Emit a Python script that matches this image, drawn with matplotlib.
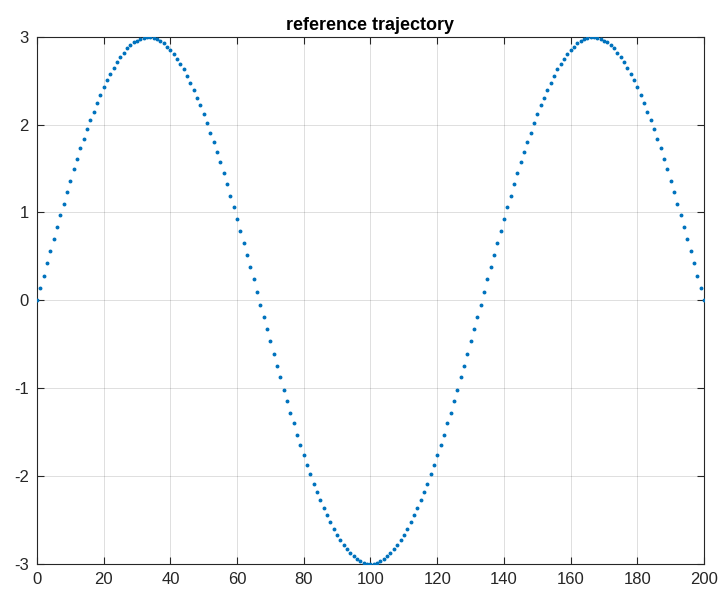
import numpy as np
import matplotlib
matplotlib.use('Agg')
from matplotlib import pyplot as plt

plt.rcParams['font.family'] = ['Liberation Sans', 'DejaVu Sans']
plt.rcParams['axes.unicode_minus'] = False

# sample index 0..200
x = np.arange(0, 201)

# reference trajectory values, one per sample
y_ref = [
    0.00, 0.14, 0.28, 0.42, 0.56, 0.70, 0.84, 0.97, 1.10, 1.23,
    1.36, 1.49, 1.61, 1.73, 1.84, 1.95, 2.05, 2.15, 2.25, 2.34,
    2.43, 2.51, 2.58, 2.65, 2.71, 2.77, 2.82, 2.87, 2.91, 2.94,
    2.96, 2.98, 2.99, 3.00, 3.00, 2.99, 2.98, 2.96, 2.93, 2.89,
    2.85, 2.81, 2.75, 2.69, 2.63, 2.56, 2.48, 2.40, 2.31, 2.22,
    2.12, 2.02, 1.91, 1.80, 1.69, 1.57, 1.45, 1.32, 1.19, 1.06,
    0.93, 0.79, 0.65, 0.52, 0.38, 0.24, 0.09, -0.05, -0.19, -0.33,
    -0.47, -0.61, -0.75, -0.88, -1.02, -1.15, -1.28, -1.40, -1.53, -1.65,
    -1.76, -1.88, -1.98, -2.09, -2.19, -2.28, -2.37, -2.45, -2.53, -2.61,
    -2.67, -2.73, -2.79, -2.84, -2.88, -2.92, -2.95, -2.97, -2.99, -3.00,
    -3.00, -3.00, -2.99, -2.97, -2.95, -2.92, -2.88, -2.84, -2.79, -2.73,
    -2.67, -2.61, -2.53, -2.45, -2.37, -2.28, -2.19, -2.09, -1.98, -1.88,
    -1.76, -1.65, -1.53, -1.40, -1.28, -1.15, -1.02, -0.88, -0.75, -0.61,
    -0.47, -0.33, -0.19, -0.05, 0.09, 0.24, 0.38, 0.52, 0.65, 0.79,
    0.93, 1.06, 1.19, 1.32, 1.45, 1.57, 1.69, 1.80, 1.91, 2.02,
    2.12, 2.22, 2.31, 2.40, 2.48, 2.56, 2.63, 2.69, 2.75, 2.81,
    2.85, 2.89, 2.93, 2.96, 2.98, 2.99, 3.00, 3.00, 2.99, 2.98,
    2.96, 2.94, 2.91, 2.87, 2.82, 2.77, 2.71, 2.65, 2.58, 2.51,
    2.43, 2.34, 2.25, 2.15, 2.05, 1.95, 1.84, 1.73, 1.61, 1.49,
    1.36, 1.23, 1.10, 0.97, 0.84, 0.70, 0.56, 0.42, 0.28, 0.14,
    0.00,
]

x_ticks = list(range(0, 201, 20))
y_ticks = [-3, -2, -1, 0, 1, 2, 3]

fig = plt.figure(figsize=(7.18, 5.90), dpi=100)
ax = fig.add_axes([0.0515, 0.0449, 0.9290, 0.8924])

ax.plot(x, y_ref, '.', color='#0072BD', markersize=3.6, zorder=3)

ax.set_xlim(0, 200)
ax.set_ylim(-3, 3)
ax.set_xticks(x_ticks)
ax.set_yticks(y_ticks)
ax.grid(True, color='#000000', alpha=0.15, linewidth=0.6)
ax.set_axisbelow(True)

for s in ax.spines.values():
    s.set_color('#262626')
    s.set_linewidth(0.8)
ax.tick_params(direction='in', length=5, width=0.8, color='#262626',
               labelsize=12, labelcolor='#262626', top=True, right=True,
               labeltop=False, labelright=False)
ax.tick_params(axis='x', pad=6)
ax.tick_params(axis='y', pad=6)

ax.set_title('reference trajectory', fontsize=13, fontweight='bold', pad=5)

fig.savefig('out.png', dpi=100)
